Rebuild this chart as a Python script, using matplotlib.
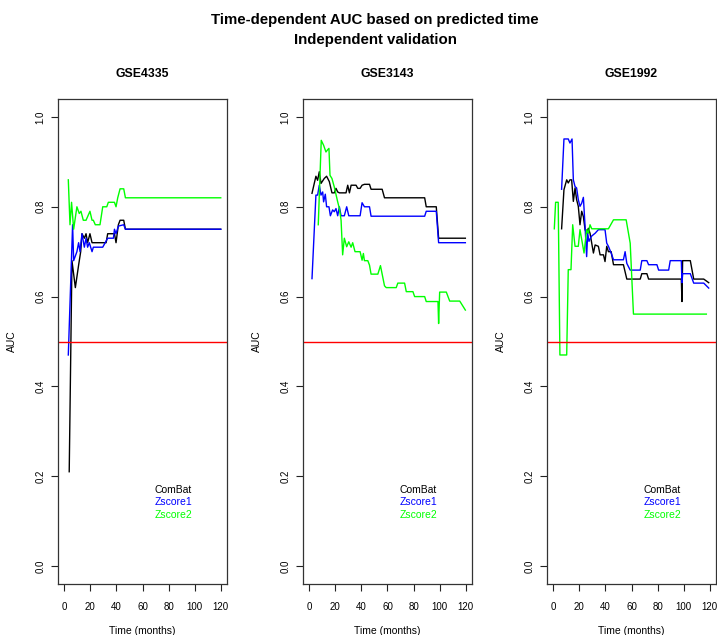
"""Time-dependent AUC curves for three independent validation datasets."""

import matplotlib.pyplot as plt

plt.rcParams["font.family"] = ["Liberation Sans", "DejaVu Sans"]

DATASETS = ["GSE4335", "GSE3143", "GSE1992"]
SERIES = ["ComBat", "Zscore1", "Zscore2"]
COLORS = ["black", "#0000FF", "#00FF00"]
TIME_TICKS = [0, 20, 40, 60, 80, 100, 120]
AUC_TICKS = [0.0, 0.2, 0.4, 0.6, 0.8, 1.0]
AUC_TICK_LABELS = ["0.0", "0.2", "0.4", "0.6", "0.8", "1.0"]

# GSE4335
gse4335_combat_time = [3.8, 5.9, 8.5, 11.0, 12.6, 13.6, 15.4, 16.7, 17.9, 19.7,
                       21.3, 32.1, 33.3, 38.5, 39.7, 41.5, 42.8, 45.6, 46.9, 120]
gse4335_combat_auc = [0.21, 0.68, 0.62, 0.67, 0.70, 0.74, 0.73, 0.74, 0.72, 0.74,
                      0.72, 0.72, 0.74, 0.74, 0.72, 0.76, 0.77, 0.77, 0.75, 0.75]
gse4335_zscore1_time = [3.1, 6.4, 7.2, 9.7, 11.0, 12.1, 13.6, 15.4, 16.7, 17.9, 19.2,
                        21.3, 22.3, 29.5, 33.3, 37.7, 38.5, 39.7, 41.5, 45.6, 46.9, 120]
gse4335_zscore1_auc = [0.47, 0.76, 0.68, 0.70, 0.72, 0.70, 0.74, 0.71, 0.73, 0.71, 0.72,
                       0.70, 0.71, 0.71, 0.73, 0.73, 0.75, 0.74, 0.757, 0.76, 0.75, 0.75]
gse4335_zscore2_time = [3.1, 4.4, 5.6, 7.2, 9.7, 11.5, 12.8, 14.6, 16.7, 19.7, 21.3, 22.3,
                        23.8, 27.4, 29.5, 32.6, 33.8, 38.5, 39.7, 41.0, 42.8, 45.6, 46.9, 120]
gse4335_zscore2_auc = [0.86, 0.76, 0.81, 0.75, 0.80, 0.785, 0.79, 0.77, 0.77, 0.79, 0.77, 0.77,
                       0.76, 0.76, 0.80, 0.80, 0.81, 0.81, 0.80, 0.82, 0.84, 0.84, 0.82, 0.82]

# GSE3143
gse3143_combat_time = [2.1, 5.1, 6.4, 7.7, 9.0, 11.5, 13.3, 15.4, 17.4, 19.2, 20.5, 21.8,
                       23.1, 28.2, 29.5, 30.8, 32.1, 35.9, 37.2, 39.0, 40.5, 42.3, 46.2,
                       47.4, 55.9, 57.7, 88.5, 89.7, 97.4, 99.2, 119.7]
gse3143_combat_auc = [0.83, 0.868, 0.859, 0.878, 0.852, 0.863, 0.868, 0.856, 0.831, 0.831,
                      0.841, 0.833, 0.831, 0.831, 0.848, 0.831, 0.848, 0.848, 0.841, 0.841,
                      0.848, 0.85, 0.85, 0.839, 0.839, 0.82, 0.82, 0.80, 0.80, 0.73, 0.73]
gse3143_zscore1_time = [2.1, 5.1, 6.4, 7.7, 9.0, 10.3, 11.0, 12.3, 13.3, 15.1, 16.2, 17.9,
                        19.2, 20.5, 21.8, 23.1, 24.4, 26.9, 28.7, 30.3, 32.8, 39.0, 40.5,
                        42.3, 46.2, 47.4, 88.5, 89.7, 97.4, 99.2, 119.7]
gse3143_zscore1_auc = [0.64, 0.826, 0.826, 0.848, 0.826, 0.833, 0.811, 0.828, 0.80, 0.80,
                       0.78, 0.793, 0.789, 0.796, 0.78, 0.80, 0.78, 0.78, 0.80, 0.78, 0.78,
                       0.78, 0.809, 0.80, 0.80, 0.779, 0.779, 0.79, 0.79, 0.72, 0.72]
gse3143_zscore2_time = [6.9, 9.2, 11.0, 12.8, 14.1, 15.1, 15.9, 17.4, 19.2, 21.8, 23.1, 24.4,
                        25.6, 26.9, 28.7, 30.3, 32.1, 33.3, 35.1, 39.0, 40.5, 41.5, 42.3,
                        44.9, 46.2, 47.4, 52.6, 54.6, 57.7, 59.0, 66.7, 67.9, 73.1, 74.4,
                        79.5, 80.8, 88.5, 89.7, 98.7, 99.2, 100.0, 105.1, 107.7, 115.4, 119.7]
gse3143_zscore2_auc = [0.76, 0.948, 0.937, 0.922, 0.927, 0.93, 0.87, 0.863, 0.844, 0.811,
                       0.796, 0.77, 0.693, 0.73, 0.711, 0.722, 0.71, 0.72, 0.70, 0.70,
                       0.681, 0.696, 0.68, 0.68, 0.67, 0.65, 0.65, 0.669, 0.624, 0.62, 0.62,
                       0.63, 0.63, 0.611, 0.611, 0.60, 0.60, 0.589, 0.589, 0.54, 0.61, 0.61,
                       0.59, 0.59, 0.57]

# GSE1992
gse1992_combat_time = [6.4, 8.2, 10.3, 11.5, 12.8, 14.1, 15.4, 16.7, 17.9, 19.2, 20.5, 21.8,
                       23.1, 24.4, 25.6, 26.9, 28.2, 29.5, 30.8, 32.1, 34.6, 35.9, 38.5,
                       39.7, 41.0, 42.3, 44.4, 46.2, 53.8, 56.4, 66.7, 67.9, 71.8, 73.1,
                       98.2, 98.7, 99.2, 105.1, 107.7, 115.4, 119.2]
gse1992_combat_auc = [0.751, 0.838, 0.86, 0.853, 0.86, 0.86, 0.812, 0.842, 0.816, 0.801,
                      0.76, 0.79, 0.778, 0.749, 0.741, 0.752, 0.741, 0.719, 0.697, 0.715,
                      0.712, 0.693, 0.693, 0.678, 0.712, 0.70, 0.70, 0.671, 0.671, 0.639,
                      0.639, 0.651, 0.651, 0.639, 0.639, 0.589, 0.68, 0.68, 0.639, 0.639, 0.631]
gse1992_zscore1_time = [6.4, 8.2, 11.5, 12.8, 14.4, 15.4, 16.7, 17.9, 19.2, 20.5, 21.8,
                        23.1, 24.4, 25.6, 26.4, 27.4, 29.2, 30.8, 32.1, 34.6, 39.7, 41.0,
                        42.3, 44.4, 46.2, 53.8, 55.1, 56.4, 59.0, 66.7, 67.9, 71.8, 73.1,
                        79.5, 80.8, 88.5, 89.7, 98.2, 98.7, 99.2, 105.1, 107.7, 115.4, 119.2]
gse1992_zscore1_auc = [0.839, 0.951, 0.951, 0.942, 0.951, 0.86, 0.845, 0.842, 0.816, 0.801,
                       0.808, 0.821, 0.756, 0.689, 0.741, 0.723, 0.734, 0.738, 0.741, 0.749,
                       0.749, 0.719, 0.712, 0.697, 0.682, 0.682, 0.70, 0.674, 0.659, 0.659,
                       0.68, 0.68, 0.671, 0.671, 0.659, 0.659, 0.68, 0.68, 0.631, 0.651,
                       0.651, 0.63, 0.63, 0.619]
gse1992_zscore2_time = [0.8, 1.8, 3.8, 5.1, 10.3, 11.5, 13.6, 14.9, 16.7, 19.2, 20.5, 22.3,
                        23.6, 25.6, 26.9, 28.2, 29.5, 42.3, 46.2, 55.9, 59.0, 61.5, 117.4]
gse1992_zscore2_auc = [0.751, 0.81, 0.81, 0.47, 0.47, 0.66, 0.66, 0.76, 0.712, 0.712, 0.749,
                       0.719, 0.697, 0.749, 0.741, 0.76, 0.751, 0.751, 0.771, 0.771, 0.719,
                       0.561, 0.561]

curves = {
    "GSE4335": [(gse4335_combat_time, gse4335_combat_auc),
                (gse4335_zscore1_time, gse4335_zscore1_auc),
                (gse4335_zscore2_time, gse4335_zscore2_auc)],
    "GSE3143": [(gse3143_combat_time, gse3143_combat_auc),
                (gse3143_zscore1_time, gse3143_zscore1_auc),
                (gse3143_zscore2_time, gse3143_zscore2_auc)],
    "GSE1992": [(gse1992_combat_time, gse1992_combat_auc),
                (gse1992_zscore1_time, gse1992_zscore1_auc),
                (gse1992_zscore2_time, gse1992_zscore2_auc)],
}

W, H = 717, 635
fig = plt.figure(figsize=(W / 100, H / 100), dpi=100)

# panel boxes in pixels (left edge); the right panel runs to the image edge
panel_left = [58, 303, 547]
panel_width = 169
box_top, box_bottom = 99, 584

for name, left in zip(DATASETS, panel_left):
    ax = fig.add_axes([left / W, 1 - box_bottom / H,
                       panel_width / W, (box_bottom - box_top) / H])
    for (t, auc), color in zip(curves[name], COLORS):
        ax.plot(t, auc, color=color, linewidth=1.0)
    ax.axhline(0.5, color="#FF0000", linewidth=1.0)

    # legend as plain coloured text, like R's legend(bty="n")
    for i, (label, color) in enumerate(zip(SERIES, COLORS)):
        ax.text(69, 0.17 - 0.028 * i, label, color=color, fontsize=7.5,
                ha="left", va="center")

    ax.set_xlim(-4.8, 124.8)
    ax.set_ylim(-0.04, 1.04)
    ax.set_xticks(TIME_TICKS)
    ax.set_yticks(AUC_TICKS)
    ax.set_yticklabels(AUC_TICK_LABELS, rotation=90, va="center")
    ax.tick_params(axis="both", direction="out", length=5, width=0.8,
                   labelsize=7, colors="#222222", labelcolor="black")
    ax.tick_params(axis="x", pad=8)
    ax.tick_params(axis="y", pad=4)
    for spine in ax.spines.values():
        spine.set_linewidth(0.9)
        spine.set_color("#333333")
    ax.set_xlabel("Time (months)", fontsize=7.5, labelpad=10)
    ax.set_ylabel("AUC", fontsize=7.5, labelpad=13)
    ax.set_title(name, fontsize=8.8, fontweight="bold", pad=15.5)

fig.text(375 / W, 1 - 20 / H, "Time-dependent AUC based on predicted time",
         fontsize=10.8, fontweight="bold", ha="center", va="center")
fig.text(375 / W, 1 - 40 / H, "Independent validation",
         fontsize=10.8, fontweight="bold", ha="center", va="center")

fig.savefig("out.png", dpi=100)
